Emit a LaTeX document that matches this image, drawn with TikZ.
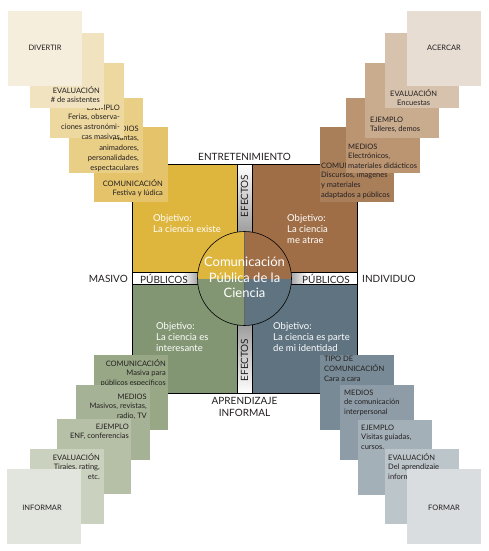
\documentclass[tikz,border=0pt]{standalone}
\usepackage{fontspec}
\setmainfont{Lato}
\definecolor{qy}{HTML}{DEB63E}
\definecolor{qb}{HTML}{A06E46}
\definecolor{qg}{HTML}{829673}
\definecolor{qs}{HTML}{5F7380}
\definecolor{tla}{HTML}{F6EEDC}
\definecolor{tlb}{HTML}{F1E3BF}
\definecolor{tlc}{HTML}{EDD89F}
\definecolor{tld}{HTML}{E9CE86}
\definecolor{tle}{HTML}{E5C36A}
\definecolor{tra}{HTML}{E7DDD3}
\definecolor{trb}{HTML}{D7C2AE}
\definecolor{trc}{HTML}{C9AB8E}
\definecolor{trd}{HTML}{BB9572}
\definecolor{tre}{HTML}{A97F5A}
\definecolor{bla}{HTML}{E2E5DD}
\definecolor{blb}{HTML}{CAD1BE}
\definecolor{blc}{HTML}{B6C0A6}
\definecolor{bld}{HTML}{A6B295}
\definecolor{ble}{HTML}{98A886}
\definecolor{bra}{HTML}{D9DDDF}
\definecolor{brb}{HTML}{BCC5CA}
\definecolor{brc}{HTML}{A4B0B7}
\definecolor{brd}{HTML}{8D9CA6}
\definecolor{bre}{HTML}{778A95}
\definecolor{ink}{HTML}{231F20}
\begin{document}
\begin{tikzpicture}[x=1pt,y=-1pt,
  cardbox/.style={anchor=north west, minimum width=74pt, minimum height=75pt, inner sep=0pt, outer sep=0pt, draw=none},
  ctr/.style={font=\fontsize{7.5}{9.8}\selectfont, text=ink, inner sep=0pt, align=right, anchor=north east},
  ctl/.style={font=\fontsize{7.5}{9.8}\selectfont, text=ink, inner sep=0pt, align=left, anchor=north west},
  bigcard/.style={font=\fontsize{7.5}{9.8}\selectfont, text=ink, inner sep=0pt},
  lab/.style={font=\fontsize{10}{12}\selectfont, text=ink, inner sep=0pt},
  qtext/.style={font=\fontsize{9.5}{11}\selectfont, text=white, inner sep=0pt, align=left, anchor=north west},
  bar/.style={draw=black, line width=0.5pt}]
\useasboundingbox[fill=white] (0,0) rectangle (488,551);

% quadrants
\fill[qy] (132,164) rectangle (244.5,278.5);
\fill[qb] (244.5,164) rectangle (357,278.5);
\fill[qg] (132,278.5) rectangle (244.5,393);
\fill[qs] (244.5,278.5) rectangle (357,393);

% bars
\fill[white] (132,272) rectangle (244.5,284.5);
\shade[left color=white, right color=black!40] (182,272) rectangle (200,284.5);
\draw[bar] (132,272) rectangle (200,284.5);
\fill[white] (244.5,272) rectangle (357,284.5);
\shade[left color=black!40, right color=white] (289,272) rectangle (307,284.5);
\draw[bar] (289,272) rectangle (357,284.5);
\shade[top color=white, bottom color=black!40] (237,164) rectangle (252,235);
\draw[bar] (237,164) rectangle (252,235);
\shade[top color=black!40, bottom color=white] (237,322) rectangle (252,393);
\draw[bar] (237,322) rectangle (252,393);

% circle
\begin{scope}
\clip (244.5,278.5) circle (47);
\fill[qy] (197,231) rectangle (244.5,278.5);
\fill[qb] (244.5,231) rectangle (292,278.5);
\fill[qg] (197,278.5) rectangle (244.5,326);
\fill[qs] (244.5,278.5) rectangle (292,326);
\draw[black!60, line width=0.4pt] (244.5,231) -- (244.5,326);
\end{scope}
\draw[black, line width=0.6pt] (244.5,278.5) circle (47);
\draw[black, line width=0.6pt] (132,164) rectangle (357,393);

% bar labels
\node[lab] (pubL) at (164,278.5) {PÚBLICOS};
\node[lab] (pubR) at (326,278.5) {PÚBLICOS};
\node[lab, rotate=90] (efT) at (244.5,196) {EFECTOS};
\node[lab, rotate=90] (efB) at (244.5,360) {EFECTOS};

% centre
\node[font=\fontsize{13}{15.5}\selectfont, text=white, align=center, inner sep=0pt] (centre) at (244.5,277.5) {Comunicación\\Pública de la\\Ciencia};

% quadrant texts
\node[qtext] (oTL) at (153,213.7) {\strut Objetivo:\\La ciencia existe};
\node[qtext] (oTR) at (287,213.7) {\strut Objetivo:\\La ciencia\\me atrae};
\node[qtext] (oBL) at (156,321.7) {\strut Objetivo:\\La ciencia es\\interesante};
\node[qtext] (oBR) at (273,321.7) {\strut Objetivo:\\La ciencia es parte\\de mi identidad};

% outside labels
\node[lab] (ent) at (244.5,157) {ENTRETENIMIENTO};
\node[lab, align=center, font=\fontsize{10}{12}\selectfont] (apr) at (244.5,407) {APRENDIZAJE\\INFORMAL};
\node[lab, anchor=east] (mas) at (128,278.5) {MASIVO};
\node[lab, anchor=west] (ind) at (362,278.5) {INDIVIDUO};

% top-left stack
\node[cardbox, fill=tle] (tlC) at (94,127) {};
\node[ctr] (tlCt) at (163,179) {\strut COMUNICACIÓN\\Festiva y lúdica};
\node[cardbox, fill=tld] (tlM) at (69,98) {};
\node[ctr] (tlMt) at (139,124) {\strut MEDIOS\\Mantas,\\animadores,\\personalidades,\\espectaculares};
\node[cardbox, fill=tlc] (tlJ) at (50,63) {};
\node[ctr] (tlJt) at (120,103) {\strut EJEMPLO\\Ferias, observa-\\ciones astronómi-\\cas masivas};
\node[cardbox, fill=tlb] (tlE) at (30,33) {};
\node[ctr] (tlEt) at (100,86) {\strut EVALUACIÓN\\\# de asistentes};
\node[cardbox, fill=tla] (tlD) at (8,11) {};
\node[bigcard] (tlDt) at (45,48) {DIVERTIR};

% top-right stack
\node[cardbox, fill=tre] (trC) at (320,127) {};
\node[ctl] (trCt) at (321,161) {\strut COMUNICACIÓN\\Discursos, imágenes\\y materiales\\adaptados a públicos};
\node[cardbox, fill=trd] (trM) at (346,98) {};
\node[ctl] (trMt) at (348,142) {\strut MEDIOS\\Electrónicos,\\materiales didácticos};
\node[cardbox, fill=trc] (trJ) at (365,63) {};
\node[ctl] (trJt) at (370,115) {\strut EJEMPLO\\Talleres, demos};
\node[cardbox, fill=trb] (trE) at (385,33) {};
\node[ctl, align=center] (trEt) at (390,89) {\strut EVALUACIÓN\\Encuestas};
\node[cardbox, fill=tra] (trA) at (407,11) {};
\node[bigcard] (trAt) at (444,48) {ACERCAR};

% bottom-left stack
\node[cardbox, fill=ble] (blC) at (94,355) {};
\node[ctr] (blCt) at (166,359) {\strut COMUNICACIÓN\\Masiva para\\públicos específicos};
\node[cardbox, fill=bld] (blM) at (76,385) {};
\node[ctr] (blMt) at (147,392) {\strut MEDIOS\\Masivos, revistas,\\radio, TV};
\node[cardbox, fill=blc] (blJ) at (57,419) {};
\node[ctr] (blJt) at (129,422) {\strut EJEMPLO\\ENF, conferencias};
\node[cardbox, fill=blb] (blE) at (30,449) {};
\node[ctr] (blEt) at (100,453) {\strut EVALUACIÓN\\Tirajes, rating,\\etc.};
\node[cardbox, fill=bla] (blI) at (7,469) {};
\node[bigcard] (blIt) at (42,508) {INFORMAR};

% bottom-right stack
\node[cardbox, fill=bre] (brT) at (320,355) {};
\node[ctl] (brTt) at (324,354) {\strut TIPO DE\\COMUNICACIÓN\\Cara a cara};
\node[cardbox, fill=brd] (brM) at (340,385) {};
\node[ctl] (brMt) at (344,388) {\strut MEDIOS\\de comunicación\\interpersonal};
\node[cardbox, fill=brc] (brJ) at (358,420) {};
\node[ctl] (brJt) at (361,423) {\strut EJEMPLO\\Visitas guiadas,\\cursos.};
\node[cardbox, fill=brb] (brE) at (385,449) {};
\node[ctl] (brEt) at (388,453) {\strut EVALUACIÓN\\Del aprendizaje\\informal};
\node[cardbox, fill=bra] (brF) at (407,469) {};
\node[bigcard] (brFt) at (444,508) {FORMAR};
\end{tikzpicture}
\end{document}
